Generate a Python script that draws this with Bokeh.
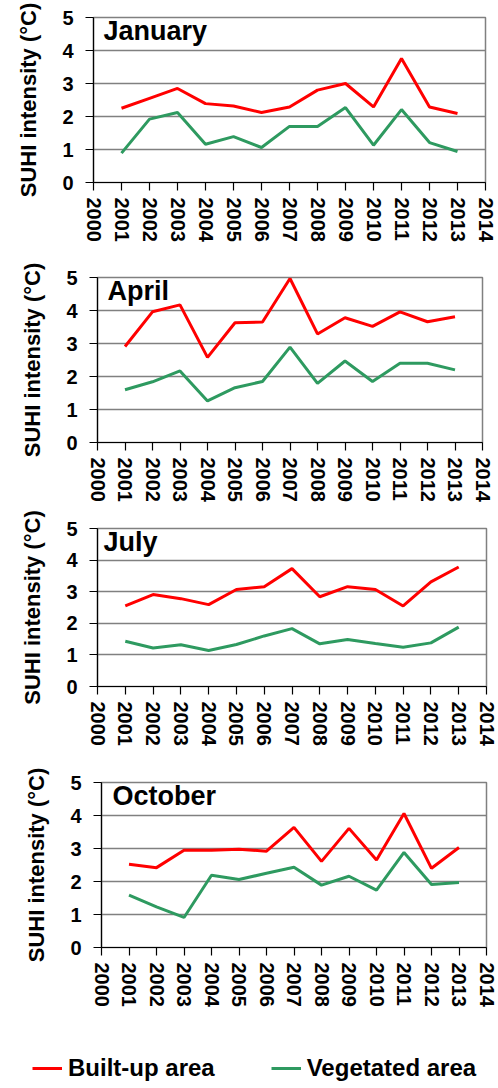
from bokeh.plotting import figure
from bokeh.layouts import column
from bokeh.models import FixedTicker, Label, Legend, LegendItem
from bokeh.embed import file_html
from bokeh.resources import INLINE

# ---------------- data ----------------
years = list(range(2001, 2014))
x_ticks = list(range(2000, 2015))
y_ticks = [0, 1, 2, 3, 4, 5]
month_names = ["January", "April", "July", "October"]
series_names = ["Built-up area", "Vegetated area"]

jan_built = [2.25, 2.55, 2.85, 2.39, 2.32, 2.12, 2.29, 2.80, 3.00, 2.29, 3.76, 2.29, 2.09]
jan_veg = [0.89, 1.92, 2.12, 1.16, 1.39, 1.06, 1.70, 1.70, 2.27, 1.13, 2.21, 1.21, 0.94]

apr_built = [2.91, 3.96, 4.17, 2.58, 3.63, 3.65, 4.97, 3.29, 3.78, 3.52, 3.96, 3.66, 3.81]
apr_veg = [1.60, 1.84, 2.17, 1.26, 1.66, 1.85, 2.89, 1.79, 2.47, 1.85, 2.40, 2.40, 2.20]

jul_built = [2.55, 2.91, 2.78, 2.59, 3.07, 3.16, 3.73, 2.84, 3.16, 3.07, 2.55, 3.31, 3.78]
jul_veg = [1.43, 1.22, 1.32, 1.14, 1.33, 1.60, 1.83, 1.35, 1.49, 1.36, 1.24, 1.38, 1.88]

oct_built = [2.52, 2.42, 2.95, 2.95, 2.98, 2.92, 3.64, 2.61, 3.61, 2.65, 4.06, 2.40, 3.03]
oct_veg = [1.59, 1.23, 0.91, 2.19, 2.06, 2.25, 2.43, 1.89, 2.16, 1.74, 2.88, 1.91, 1.97]

built_series = [jan_built, apr_built, jul_built, oct_built]
veg_series = [jan_veg, apr_veg, jul_veg, oct_veg]

# ---------------- style ----------------
FONT = "Liberation Sans"
RED = "#ff0000"
GREEN = "#2e9a60"
W = 498

# per panel layout (page px): frame left/right, border top, frame height, border bottom, title offset
layout_cfg = [
    dict(left=93, right=485, top=17, fh=165, bottom=75, tx=10),
    dict(left=97, right=482, top=20, fh=165, bottom=66, tx=10),
    dict(left=97, right=486, top=20, fh=158, bottom=76, tx=6),
    dict(left=101, right=486, top=20, fh=165, bottom=66, tx=11),
]

figs = []
for i, cfg in enumerate(layout_cfg):
    p = figure(width=W, height=cfg["top"] + cfg["fh"] + cfg["bottom"],
               x_range=(2000, 2014), y_range=(0, 5),
               output_backend="svg", toolbar_location=None,
               min_border_left=cfg["left"], min_border_right=W - cfg["right"],
               min_border_top=cfg["top"], min_border_bottom=cfg["bottom"])
    p.frame_align = False

    p.line(years, built_series[i], line_color=RED, line_width=3)
    p.line(years, veg_series[i], line_color=GREEN, line_width=3)

    p.xgrid.visible = False
    p.ygrid.grid_line_color = "#808080"
    p.ygrid.grid_line_width = 1.5
    p.outline_line_color = "#808080"
    p.outline_line_width = 1.5

    p.xaxis.ticker = FixedTicker(ticks=x_ticks)
    p.yaxis.ticker = FixedTicker(ticks=y_ticks)
    p.xaxis.major_label_orientation = "vertical"
    for ax in (p.xaxis, p.yaxis):
        ax.major_label_text_font = FONT
        ax.major_label_text_font_style = "bold"
        ax.major_label_text_font_size = "20px"
        ax.major_label_text_color = "#000000"
        ax.axis_line_color = "#000000"
        ax.axis_line_width = 1.2
        ax.major_tick_line_color = "#000000"
        ax.major_tick_line_width = 1.2
        ax.major_tick_in = 0
        ax.major_tick_out = 8
        ax.minor_tick_line_color = None
    p.xaxis.major_label_standoff = 7
    p.yaxis.major_label_standoff = 12
    p.yaxis.axis_label = "SUHI intensity (°C)"
    p.yaxis.axis_label_text_font = FONT
    p.yaxis.axis_label_text_font_style = "bold"
    p.yaxis.axis_label_text_font_size = "22px"
    p.yaxis.axis_label_text_color = "#000000"
    p.yaxis.axis_label_standoff = 18

    p.add_layout(Label(x=2000, y=5, x_offset=cfg["tx"], y_offset=2,
                       text=month_names[i], text_baseline="top",
                       text_font=FONT, text_font_style="bold",
                       text_font_size="27px", text_color="#000000"))
    figs.append(p)

# ---------------- legend strip ----------------
lg = figure(width=W, height=70, output_backend="svg", toolbar_location=None,
            x_axis_type=None, y_axis_type=None,
            x_range=(0, 1), y_range=(0, 1),
            min_border_left=32, min_border_right=0, min_border_top=0, min_border_bottom=1)
lg.frame_align = False
lg.xgrid.visible = False
lg.ygrid.visible = False
lg.outline_line_color = None
# single-point proxies (a one-point line draws nothing) used only for the legend keys
r_b = lg.line(x=[years[0]], y=[oct_built[0]], line_color=RED, line_width=3)
r_v = lg.line(x=[years[0]], y=[oct_veg[0]], line_color=GREEN, line_width=3)
legend = Legend(items=[LegendItem(label=series_names[0], renderers=[r_b]),
                       LegendItem(label=series_names[1], renderers=[r_v])],
                location="bottom_left", orientation="horizontal",
                label_text_font=FONT, label_text_font_style="bold",
                label_text_font_size="24px", label_text_color="#000000",
                glyph_width=30, glyph_height=22, label_height=22,
                label_standoff=6, spacing=56, padding=0, margin=0,
                border_line_alpha=0, background_fill_alpha=0)
lg.add_layout(legend)
figs.append(lg)

layout = column(*figs, spacing=0)
open("out.html", "w").write(file_html(layout, INLINE))
